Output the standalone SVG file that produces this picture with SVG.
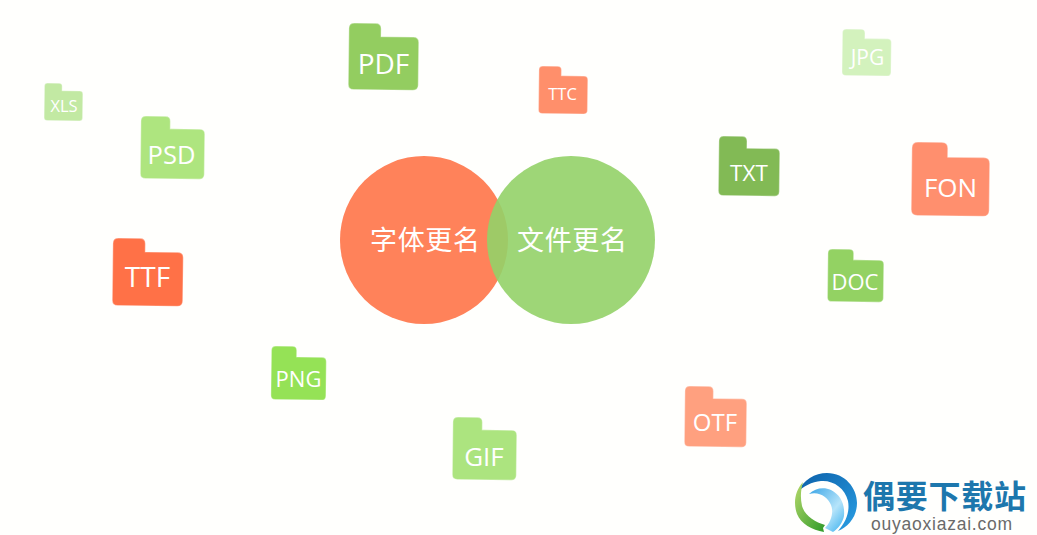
<svg xmlns="http://www.w3.org/2000/svg" xmlns:xlink="http://www.w3.org/1999/xlink" width="1037" height="535" viewBox="0 0 1037 535">
<style>
.lbl{font-family:"Open Sans","Noto Sans",sans-serif;fill:#fff;text-anchor:middle}
.cjk{font-family:"Noto Sans CJK SC",sans-serif;font-weight:400;fill:#fff;font-size:27px}
.edge{stroke:#fff;stroke-opacity:.35;stroke-width:1.2;vector-effect:non-scaling-stroke}
</style>
<defs>
<path id="f" class="edge" d="M0,8Q0,0 8,0H38Q46,0 46,8V20H92Q100,20 100,28V92Q100,100 92,100H8Q0,100 0,92Z"/>
<linearGradient id="b1" x1="0" y1="0" x2="1" y2="1"><stop offset="0" stop-color="#0b5fa8"/><stop offset="1" stop-color="#2a9fe4"/></linearGradient>
<linearGradient id="b2" x1="0" y1="0" x2="1" y2="1"><stop offset="0" stop-color="#3aa5e6"/><stop offset=".6" stop-color="#b5e4fa"/><stop offset="1" stop-color="#38b0ee"/></linearGradient>
<linearGradient id="g1" x1="0" y1="0" x2="1" y2="1"><stop offset="0" stop-color="#b6d96a"/><stop offset="1" stop-color="#2f9a2a"/></linearGradient>
</defs>
<rect width="1037" height="535" fill="#fffffd"/>
<g id="circle-font"><circle cx="424" cy="240" r="84" fill="#ff825a"/></g>
<g id="circle-file"><circle cx="571" cy="240" r="84" fill="#94d268" fill-opacity=".9"/></g>
<text class="cjk" x="370" y="250" textLength="110">字体更名</text>
<text class="cjk" x="517" y="250" textLength="110">文件更名</text>
<g id="xls"><use xlink:href="#f" fill="#c2e9a3" transform="translate(44.5,83) rotate(.7) scale(.385,.375)"/><text class="lbl" x="64" y="112" font-size="16.500">XLS</text></g>
<g id="psd"><use xlink:href="#f" fill="#aee57f" transform="translate(141,116) rotate(.7) scale(.64,.625)"/><text class="lbl" x="171.500" y="164" font-size="25.500">PSD</text></g>
<g id="pdf"><use xlink:href="#f" fill="#93cd60" transform="translate(349,23) rotate(.7) scale(.7,.665)"/><text class="lbl" x="383.500" y="74" font-size="28">PDF</text></g>
<g id="ttc"><use xlink:href="#f" fill="#ff8f6b" transform="translate(539,66) rotate(.7) scale(.49,.475)"/><text class="lbl" x="562.500" y="100" font-size="16.500">TTC</text></g>
<g id="jpg"><use xlink:href="#f" fill="#d3f2bd" transform="translate(842.500,29) rotate(.7) scale(.49,.465)"/><text class="lbl" x="867.500" y="65" font-size="21">JPG</text></g>
<g id="txt"><use xlink:href="#f" fill="#82ba55" transform="translate(719,136) rotate(.7) scale(.61,.595)"/><text class="lbl" x="749" y="181" font-size="22.500">TXT</text></g>
<g id="fon"><use xlink:href="#f" fill="#ff8f6e" transform="translate(912,142) rotate(.7) scale(.78,.735)"/><text class="lbl" x="950.500" y="197" font-size="26">FON</text></g>
<g id="doc"><use xlink:href="#f" fill="#93d263" transform="translate(828,249) rotate(.7) scale(.56,.525)"/><text class="lbl" x="855" y="290" font-size="22">DOC</text></g>
<g id="ttf"><use xlink:href="#f" fill="#ff7147" transform="translate(113,238) rotate(.7) scale(.705,.675)"/><text class="lbl" x="147.500" y="287" font-size="28">TTF</text></g>
<g id="png"><use xlink:href="#f" fill="#95e256" transform="translate(271.500,346) rotate(.7) scale(.55,.535)"/><text class="lbl" x="298.500" y="387" font-size="22">PNG</text></g>
<g id="gif"><use xlink:href="#f" fill="#ace47f" transform="translate(453,417) rotate(.7) scale(.64,.625)"/><text class="lbl" x="484" y="466" font-size="26">GIF</text></g>
<g id="otf"><use xlink:href="#f" fill="#ffa07f" transform="translate(685,386) rotate(.7) scale(.62,.605)"/><text class="lbl" x="715" y="431" font-size="24">OTF</text></g>
<g id="logo">
<path d="M798,492C803,480 815,473 827,473C845,473 857,488 857,503C857,517 848,527 838,531C846,522 850,512 848,501C845,488 833,480 821,481C812,482 803,486 798,492Z" fill="url(#b1)"/>
<path d="M809,494C815,488 824,487 831,490C841,495 845,505 844,516C843,522 838,529 833,532L825,528C831,522 834,512 831,505C828,497 819,491 809,494Z" fill="url(#b2)"/>
<path d="M803,482C795,491 793,503 797,514C801,524 812,530 824,532L823,528L825,525C815,522 805,516 802,506C800,497 801,489 803,482Z" fill="url(#g1)"/>
<text x="863" y="508" font-family="'Noto Sans CJK SC',sans-serif" font-weight="700" font-size="32" fill="#1d77ad" textLength="163">偶要下载站</text>
<text x="871" y="530" font-family="'Liberation Sans',Arial,sans-serif" font-size="17.500" fill="#6a6a6a" textLength="141">ouyaoxiazai.com</text>
</g>
</svg>
